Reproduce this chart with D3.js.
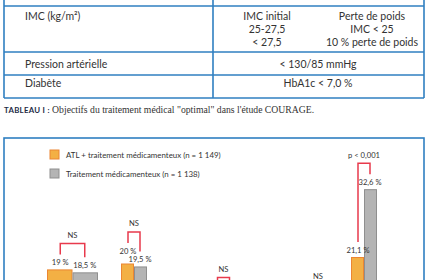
<!DOCTYPE html>
<meta charset="utf-8">
<script src="https://d3js.org/d3.v7.min.js"></script>
<html>
<style>
body { margin: 0; background: #fff; }
text { font-family: Lato, "Noto Sans", sans-serif; fill: #333; }
</style>
<body>
<svg id="chart" width="428" height="280"></svg>
<script>

// table rows (left column / right column)
var rowLabels = ["Cholestérol LDL (mg/dl)", "IMC (kg/m²)", "Pression artérielle", "Diabète"];
var rowValues = ["60-85 mg/dl", null, "< 130/85 mmHg", "HbA1c < 7,0 %"];
var imcCol1 = ["IMC initial", "25-27,5", "< 27,5"];
var imcCol2 = ["Perte de poids", "IMC < 25", "10 % perte de poids"];

// bar chart data
var groups = ["Décès + IDM", "Décès + IDM + AVC", "Hospitalisation SCA", "IDM", "Revascularisation"];
var atlValues = [19, 20, 12.4, 11.2, 21.1];
var medValues = [18.5, 19.5, 11.8, 10.6, 32.6];
var atlLabels = ["19 %", "20 %", "12,4 %", "11,2 %", "21,1 %"];
var medLabels = ["18,5 %", "19,5 %", "11,8 %", "10,6 %", "32,6 %"];
var pLabels = ["NS", "NS", "NS", "NS", "p < 0,001"];
var seriesNames = ["ATL + traitement médicamenteux (n = 1 149)", "Traitement médicamenteux (n = 1 138)"];

var svg = d3.select("#chart");
var blue = "#2f7fc1";
var orange = "#f3b044", orangeStroke = "#ec8632";
var grey = "#b4b4b4", greyStroke = "#8f8f8f";
var red = "#e83a4c";

// ---- table ----
var rowY = d3.scaleOrdinal().domain(rowLabels).range([-2.5, 20, 68, 87]);
var tbl = svg.append("g");
[6, 52, 75, 98].forEach(function(y) {
  tbl.append("line").attr("x1", 4).attr("x2", 424).attr("y1", y).attr("y2", y)
    .attr("stroke", blue).attr("stroke-width", 1.6);
});
[4, 213, 424].forEach(function(x) {
  tbl.append("line").attr("x1", x).attr("x2", x).attr("y1", -2).attr("y2", 98)
    .attr("stroke", blue).attr("stroke-width", 1.6);
});
tbl.selectAll("text.lab").data(rowLabels).enter().append("text")
  .attr("x", 25).attr("y", function(d) { return rowY(d); })
  .style("font-size", "10.5px").text(function(d) { return d; });
tbl.selectAll("text.val").data(rowLabels.filter(function(d, i) { return rowValues[i]; })).enter().append("text")
  .attr("x", 318).attr("y", function(d) { return rowY(d); })
  .attr("text-anchor", "middle").style("font-size", "10.5px")
  .text(function(d) { return rowValues[rowLabels.indexOf(d)]; });
imcCol1.forEach(function(t, i) {
  tbl.append("text").attr("x", 267).attr("y", 20 + i * 13).attr("text-anchor", "middle")
    .style("font-size", "10.5px").text(t);
});
imcCol2.forEach(function(t, i) {
  tbl.append("text").attr("x", 372).attr("y", 20 + i * 13).attr("text-anchor", "middle")
    .style("font-size", "10.5px").text(t);
});

// caption
var cap = svg.append("text").attr("x", 4).attr("y", 113);
cap.append("tspan").style("font-weight", "bold").style("font-size", "7.8px").style("fill", "#1d2b44")
  .style("letter-spacing", "0.3px").text("TABLEAU I :");
cap.append("tspan").style("font-family", "'Liberation Serif', serif").style("font-size", "9.7px")
  .text(" Objectifs du traitement médical \"optimal\" dans l'étude COURAGE.");

// ---- chart box ----
svg.append("rect").attr("x", 4).attr("y", 138).attr("width", 420).attr("height", 200)
  .attr("fill", "none").attr("stroke", blue).attr("stroke-width", 1.6);

// legend
var legend = svg.selectAll("g.legend").data(seriesNames).enter().append("g")
  .attr("transform", function(d, i) { return "translate(50," + (150 + i * 19) + ")"; });
legend.append("rect").attr("width", 9).attr("height", 9)
  .attr("fill", function(d, i) { return i ? grey : orange; })
  .attr("stroke", function(d, i) { return i ? greyStroke : orangeStroke; });
legend.append("text").attr("x", 16).attr("y", 8).style("font-size", "7.9px").text(function(d) { return d; });

// scales
var y = d3.scaleLinear().domain([0, 35]).range([382, 382 - 35 * 5.9]);
var x = d3.scaleLinear().domain([0, 1, 2, 3, 4]).range([72.5, 134, 223.5, 318, 364]);
function barW(i) { return i === 0 ? 24.5 : 12; }

var g = svg.append("g");
groups.forEach(function(name, i) {
  var c = x(i), w = barW(i);
  var tA = y(atlValues[i]), tM = y(medValues[i]);
  g.append("rect").attr("x", c - w - 0.5).attr("y", tA).attr("width", w).attr("height", y(0) - tA)
    .attr("fill", orange).attr("stroke", orangeStroke);
  g.append("rect").attr("x", c + 0.5).attr("y", tM).attr("width", w).attr("height", y(0) - tM)
    .attr("fill", grey).attr("stroke", greyStroke);

  var cxA = c - w / 2, cxM = c + w / 2;
  var lbA = tA - 4.5, lbM = tM - 4.5;
  // narrow bars: lift the orange label above the grey one if they collide
  if (w < 20 && Math.abs(lbA - lbM) < 8.5) lbA = lbM - 8.5;
  g.append("text").attr("x", cxA).attr("y", lbA).attr("text-anchor", "middle")
    .style("font-size", "7.6px").text(atlLabels[i]);
  g.append("text").attr("x", cxM).attr("y", lbM).attr("text-anchor", "middle")
    .style("font-size", "7.6px").text(medLabels[i]);

  var top = Math.min(lbA, lbM) - 22;
  g.append("path")
    .attr("d", "M" + cxA + "," + (lbA - 11) + "V" + top + "H" + cxM + "V" + (lbM - 11))
    .attr("fill", "none").attr("stroke", red).attr("stroke-width", 1.5);
  g.append("text").attr("x", c).attr("y", top - 5.5).attr("text-anchor", "middle")
    .style("font-size", "7.6px").text(pLabels[i]);
});

</script>
</body>
</html>
